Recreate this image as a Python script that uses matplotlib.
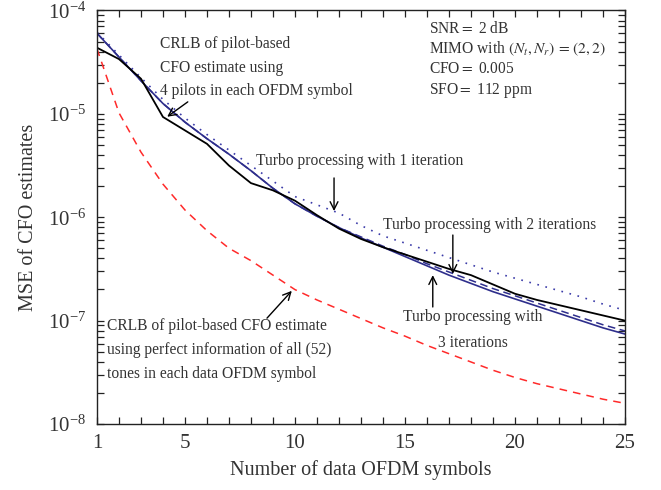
import numpy as np
import matplotlib
matplotlib.use("Agg")
import matplotlib.pyplot as plt
from matplotlib.ticker import LogLocator, MultipleLocator, FixedLocator

plt.rcParams['font.family'] = ['Liberation Serif', 'DejaVu Serif']
plt.rcParams['mathtext.fontset'] = 'stix'

# number of data OFDM symbols
n_sym = list(range(1, 26))

# MSE values, stored as log10 exponents
crlb_pilot_log = [-4.22, -4.45, -4.68, -4.90, -5.08, -5.24, -5.39, -5.55, -5.72, -5.87,
                  -5.99, -6.10, -6.20, -6.29, -6.38, -6.47, -6.56, -6.64, -6.72, -6.79,
                  -6.86, -6.93, -7.00, -7.07, -7.13]
turbo3_log = [-4.22, -4.45, -4.68, -4.90, -5.08, -5.24, -5.39, -5.55, -5.72, -5.87,
              -5.99, -6.10, -6.19, -6.28, -6.36, -6.45, -6.53, -6.61, -6.69, -6.76,
              -6.83, -6.90, -6.97, -7.04, -7.10]
turbo2_log = [-4.36, -4.47, -4.66, -5.03, -5.16, -5.29, -5.50, -5.67, -5.74, -5.84,
              -5.98, -6.11, -6.21, -6.29, -6.36, -6.43, -6.50, -6.56, -6.65, -6.74,
              -6.80, -6.85, -6.90, -6.95, -7.00]
turbo1_log = [-4.21, -4.43, -4.65, -4.86, -5.04, -5.20, -5.35, -5.50, -5.65, -5.80,
              -5.88, -5.96, -6.08, -6.18, -6.25, -6.32, -6.39, -6.46, -6.53, -6.59,
              -6.65, -6.71, -6.77, -6.84, -6.90]
crlb_all_log = [-4.37, -4.99, -5.37, -5.68, -5.93, -6.13, -6.30, -6.42, -6.56, -6.70,
                -6.80, -6.89, -6.98, -7.07, -7.15, -7.24, -7.32, -7.40, -7.48, -7.55,
                -7.61, -7.66, -7.71, -7.76, -7.80]

x_ticks = [1, 5, 10, 15, 20, 25]

navy = '#2e2e8c'
text_col = '#333333'

fig = plt.figure(figsize=(6.61, 4.90), dpi=100)
ax = fig.add_axes([0.1467, 0.1347, 0.7988, 0.8439])

ax.plot(n_sym, 10.0 ** np.array(crlb_all_log), color='#ff2a2a', lw=1.1, ls=(0, (5, 4)))
ax.plot(n_sym, 10.0 ** np.array(turbo1_log), color='#3a3aa8', lw=1.2, ls=(0, (1, 4)))
ax.plot(n_sym, 10.0 ** np.array(turbo3_log), color=navy, lw=1.1, ls=(0, (5, 3)))
ax.plot(n_sym, 10.0 ** np.array(crlb_pilot_log), color=navy, lw=1.2)
ax.plot(n_sym, 10.0 ** np.array(turbo2_log), color='black', lw=1.3)

ax.set_yscale('log')
ax.set_xlim(1, 25)
ax.set_ylim(1e-8, 1e-4)
ax.xaxis.set_major_locator(FixedLocator(x_ticks))
ax.xaxis.set_minor_locator(MultipleLocator(1))
ax.yaxis.set_major_locator(LogLocator(base=10, numticks=10))
ax.yaxis.set_minor_locator(LogLocator(base=10, subs=np.arange(2, 10), numticks=20))
ax.tick_params(which='both', direction='in', top=True, right=True, length=5,
               width=0.9, colors='#222222', labelcolor=text_col, labelsize=15)
ax.tick_params(axis='y', which='major', pad=8)
ax.tick_params(axis='x', which='major', pad=7)
for s in ax.spines.values():
    s.set_color('#222222')
    s.set_linewidth(1.0)

ax.set_xlabel('Number of data OFDM symbols', fontsize=14.5, color=text_col, labelpad=5)
ax.set_ylabel('MSE of CFO estimates', fontsize=14.5, color=text_col, labelpad=7)

fs = 11.2
ax.text(0.119, 0.862, 'CRLB of pilot-based\nCFO estimate using\n4 pilots in each OFDM symbol',
        transform=ax.transAxes, ha='left', va='center', fontsize=fs, color=text_col,
        linespacing=1.65)
ax.text(0.629, 0.880, 'SNR$=$ 2 dB\nMIMO with $(N_t, N_r)\\,=\\,(2, 2)$\nCFO$=$ 0.005\nSFO$=$ 112 ppm',
        transform=ax.transAxes, ha='left', va='center', fontsize=fs, color=text_col,
        linespacing=1.25)
ax.text(0.301, 0.636, 'Turbo processing with 1 iteration', transform=ax.transAxes,
        ha='left', va='center', fontsize=fs, color=text_col)
ax.text(0.542, 0.481, 'Turbo processing with 2 iterations', transform=ax.transAxes,
        ha='left', va='center', fontsize=fs, color=text_col)
ax.text(0.712, 0.227, 'Turbo processing with\n3 iterations', transform=ax.transAxes,
        ha='center', va='center', fontsize=fs, color=text_col, linespacing=1.8,
        multialignment='center')
ax.text(0.019, 0.179, 'CRLB of pilot-based CFO estimate\nusing perfect information of all (52)\n'
        'tones in each data OFDM symbol', transform=ax.transAxes, ha='left', va='center',
        fontsize=fs, color=text_col, linespacing=1.66)

arrows = [((0.172, 0.779), (0.133, 0.743)),
          ((0.449, 0.595), (0.449, 0.515)),
          ((0.674, 0.457), (0.674, 0.363)),
          ((0.636, 0.283), (0.636, 0.360)),
          ((0.322, 0.256), (0.369, 0.322))]
for start, tip in arrows:
    ax.annotate('', xy=tip, xytext=start, xycoords='axes fraction',
                textcoords='axes fraction',
                arrowprops=dict(arrowstyle='->', color='black', lw=1.0,
                                shrinkA=0, shrinkB=0, mutation_scale=14))

fig.savefig('out.png', dpi=100)
